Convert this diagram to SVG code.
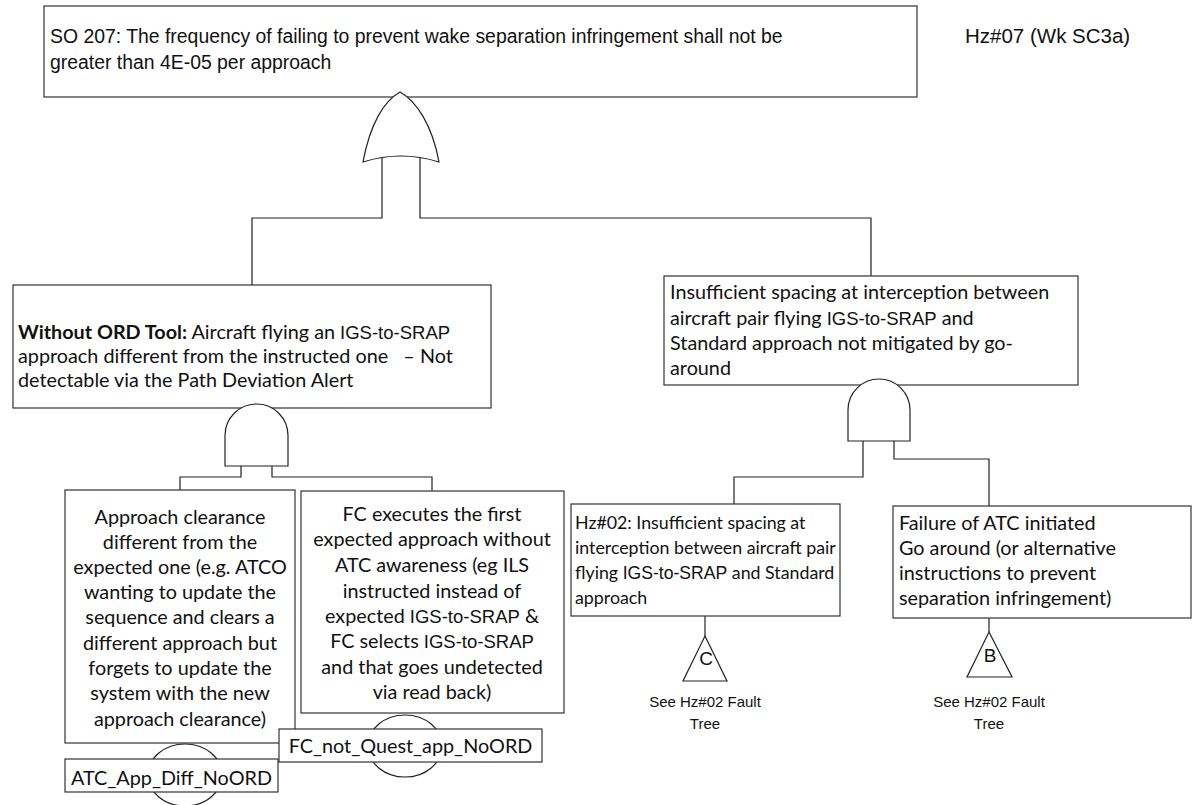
<svg xmlns="http://www.w3.org/2000/svg" width="1196" height="805" viewBox="0 0 1196 805">
  <style>
    .box { fill: #ffffff; stroke: #333333; stroke-width: 1.2; }
    .gate { fill: #ffffff; stroke: #222222; stroke-width: 1.2; }
    .wire { fill: none; stroke: #222222; stroke-width: 1.2; }
    .ar { font-family: "Liberation Sans", Arial, sans-serif; fill: #111111; }
    .cb { font-family: Lato, "Liberation Sans", sans-serif; font-size: 19.8px; fill: #111111; }
    .cs { font-family: Lato, "Liberation Sans", sans-serif; font-size: 17.8px; fill: #111111; }
    .big { font-family: "Liberation Sans", Arial, sans-serif; font-size: 18.5px; }
    .bigs { font-family: "Liberation Sans", Arial, sans-serif; font-size: 17.6px; }
    .mid { text-anchor: middle; }
  </style>

  <!-- top event -->
  <g id="top-event">
    <rect class="box" x="44" y="6" width="873" height="91"/>
    <text class="ar" font-size="19.4" x="50" y="43">SO 207: The frequency of failing to prevent wake separation infringement shall not be</text>
    <text class="ar" font-size="19.4" x="50" y="69">greater than 4E-05 per approach</text>
  </g>
  <g id="hazard-id">
    <text class="ar" font-size="20.5" x="965" y="43">Hz#07 (Wk SC3a)</text>
  </g>

  <!-- connectors -->
  <g id="connectors">
    <path class="wire" d="M382,157 V218 H252 V285"/>
    <path class="wire" d="M420,157 V218 H871 V276"/>
    <path class="wire" d="M241,466 V477 H180 V490"/>
    <path class="wire" d="M272,466 V477 H432 V491"/>
    <path class="wire" d="M863,441 V477 H734 V504"/>
    <path class="wire" d="M894,441 V459 H989 V506"/>
    <path class="wire" d="M705,616 V636"/>
    <path class="wire" d="M989,618 V632"/>
  </g>

  <!-- OR gate under the top event -->
  <g id="or-gate-top">
    <path class="gate" d="M363,162 C370,124 384,101 400,92 C416,101 432,124 439,162 Q401,150 363,162 Z"/>
  </g>

  <!-- left branch -->
  <g id="without-ord">
    <rect class="box" x="13" y="285" width="478" height="123"/>
    <text class="cb" x="18" y="339" font-size="20"><tspan font-weight="bold">Without ORD Tool:</tspan> Aircraft flying an <tspan class="big">IGS-to-SRAP</tspan></text>
    <text class="cb" x="18" y="363" font-size="20" style="white-space:pre">approach different from the instructed one   – Not</text>
    <text class="cb" x="18" y="387" font-size="20">detectable via the Path Deviation Alert</text>
  </g>
  <g id="and-gate-left">
    <path class="gate" d="M225,466 V435.5 A31.5,31.5 0 0 1 288,435.5 V466 Z"/>
  </g>

  <g id="approach-clearance">
    <rect class="box" x="65" y="490" width="230" height="253"/>
    <text class="cb mid" x="180" y="524">Approach clearance</text>
    <text class="cb mid" x="180" y="549">different from the</text>
    <text class="cb mid" x="180" y="574">expected one (e.g. ATCO</text>
    <text class="cb mid" x="180" y="599">wanting to update the</text>
    <text class="cb mid" x="180" y="624">sequence and clears a</text>
    <text class="cb mid" x="180" y="650">different approach but</text>
    <text class="cb mid" x="180" y="675">forgets to update the</text>
    <text class="cb mid" x="180" y="700">system with the new</text>
    <text class="cb mid" x="180" y="726">approach clearance)</text>
  </g>

  <g id="fc-executes">
    <rect class="box" x="301" y="491" width="263" height="222"/>
    <text class="cb mid" x="432" y="521">FC executes the first</text>
    <text class="cb mid" x="432" y="546">expected approach without</text>
    <text class="cb mid" x="432" y="572">ATC awareness (eg ILS</text>
    <text class="cb mid" x="432" y="598">instructed instead of</text>
    <text class="cb mid" x="432" y="623">expected <tspan class="big">IGS-to-SRAP</tspan> &amp;</text>
    <text class="cb mid" x="432" y="648">FC selects <tspan class="big">IGS-to-SRAP</tspan></text>
    <text class="cb mid" x="432" y="674">and that goes undetected</text>
    <text class="cb mid" x="432" y="699">via read back)</text>
  </g>

  <!-- basic events -->
  <g id="event-fc-not-quest">
    <ellipse class="gate" cx="405" cy="746" rx="37" ry="31"/>
    <rect class="box" x="279" y="729" width="263" height="33"/>
    <text class="cb mid" x="410.5" y="753" font-size="19.3">FC_not_Quest_app_NoORD</text>
  </g>
  <g id="event-atc-app-diff">
    <ellipse class="gate" cx="185" cy="775" rx="37" ry="31"/>
    <rect class="box" x="65" y="759" width="213" height="33"/>
    <text class="cb mid" x="171.5" y="785" font-size="19.3">ATC_App_Diff_NoORD</text>
  </g>

  <!-- right branch -->
  <g id="insufficient-spacing">
    <rect class="box" x="664" y="276" width="414" height="109"/>
    <text class="cb" x="670" y="299" font-size="20">Insufficient spacing at interception between</text>
    <text class="cb" x="670" y="325" font-size="20">aircraft pair flying <tspan class="big">IGS-to-SRAP</tspan> and</text>
    <text class="cb" x="670" y="350" font-size="20">Standard approach not mitigated by go-</text>
    <text class="cb" x="670" y="375" font-size="20">around</text>
  </g>
  <g id="and-gate-right">
    <path class="gate" d="M848,441 V410 A31,31 0 0 1 910,410 V441 Z"/>
  </g>

  <g id="hz02">
    <rect class="box" x="571" y="504" width="269" height="112"/>
    <text class="cs" x="575" y="529">Hz#02: Insufficient spacing at</text>
    <text class="cs" x="575" y="554">interception between aircraft pair</text>
    <text class="cs" x="575" y="579">flying <tspan class="bigs">IGS-to-SRAP</tspan> and Standard</text>
    <text class="cs" x="575" y="604">approach</text>
  </g>
  <g id="transfer-c">
    <polygon class="gate" points="705,636 727,681 683,681"/>
    <text class="ar mid" font-size="19" x="706" y="665">C</text>
    <text class="ar mid" font-size="15" x="705" y="707">See Hz#02 Fault</text>
    <text class="ar mid" font-size="15" x="705" y="729">Tree</text>
  </g>

  <g id="go-around-failure">
    <rect class="box" x="893" y="506" width="298" height="112"/>
    <text class="cb" x="899" y="530" font-size="20">Failure of ATC initiated</text>
    <text class="cb" x="899" y="555" font-size="20">Go around (or alternative</text>
    <text class="cb" x="899" y="580" font-size="20">instructions to prevent</text>
    <text class="cb" x="899" y="605" font-size="20">separation infringement)</text>
  </g>
  <g id="transfer-b">
    <polygon class="gate" points="989,632 1012,677 967,677"/>
    <text class="ar mid" font-size="19" x="990" y="662">B</text>
    <text class="ar mid" font-size="15" x="989" y="707">See Hz#02 Fault</text>
    <text class="ar mid" font-size="15" x="989" y="729">Tree</text>
  </g>
</svg>
